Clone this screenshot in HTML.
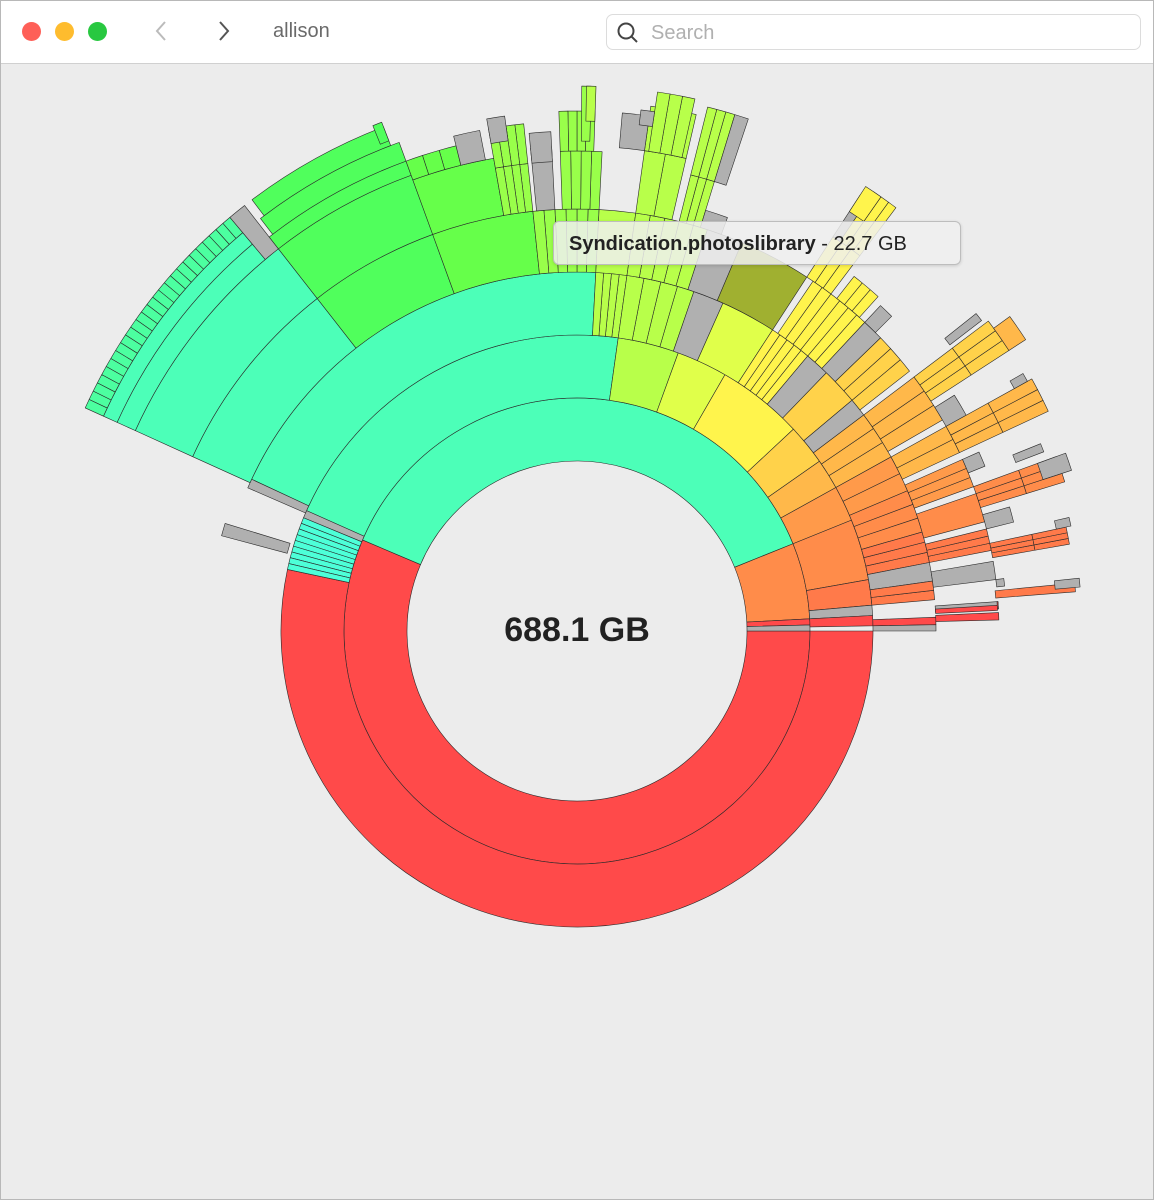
<!DOCTYPE html>
<html><head><meta charset="utf-8"><style>
html,body{margin:0;padding:0;}
body{width:1154px;height:1200px;position:relative;background:#ececec;font-family:"Liberation Sans",sans-serif;overflow:hidden;}
#frame{position:absolute;left:0;top:0;width:1152px;height:1198px;border:1px solid #b8b8b8;}
#bar{position:absolute;left:1px;top:1px;width:1152px;height:62px;background:#fff;border-bottom:1px solid #d0d0d0;}
.dot{position:absolute;top:21px;width:19px;height:19px;border-radius:50%;}
#title{position:absolute;left:272px;top:19px;font-size:20px;color:#6a6a6a;}
#search{position:absolute;left:605px;top:13px;width:533px;height:34px;border:1px solid #dcdcdc;border-radius:7px;background:#fff;}
#search span{position:absolute;left:44px;top:7px;font-size:20px;color:#b0b0b0;}
svg{position:absolute;left:0;top:0;}
#tip{position:absolute;left:553px;top:221px;width:408px;height:44px;border:1px solid #bdbdbd;border-radius:6px;background:rgba(240,240,240,0.85);box-shadow:0 1px 3px rgba(0,0,0,0.15);font-size:20px;color:#222;line-height:44px;padding-left:15px;box-sizing:border-box;white-space:nowrap;}
#center{position:absolute;left:427px;width:300px;top:611px;text-align:center;font-size:34px;font-weight:bold;color:#222;}
</style></head><body>
<div id="frame"></div>
<div id="bar">
<div class="dot" style="left:21px;background:#fe5f57;"></div>
<div class="dot" style="left:54px;background:#febc2e;"></div>
<div class="dot" style="left:87px;background:#28c840;"></div>
<svg width="300" height="62" style="left:0;top:0"><polyline points="164,21 156,30 164,39" fill="none" stroke="#bbb" stroke-width="2"/><polyline points="219,21 227,30 219,39" fill="none" stroke="#555" stroke-width="2"/></svg>
<div id="title">allison</div>
<div id="search"><svg width="40" height="34"><circle cx="19" cy="16" r="7.5" fill="none" stroke="#444" stroke-width="2"/><line x1="24.5" y1="21.5" x2="30" y2="27" stroke="#444" stroke-width="2"/></svg><span>Search</span></div>
</div>
<svg id="chart" width="1154" height="1200"></svg>
<div id="center">688.1 GB</div>
<div id="tip"><b>Syndication.photoslibrary</b> - 22.7 GB</div>
<script>
var CX=577,CY=631,out=[];
function P(r,a){a=a*Math.PI/180;return (CX+r*Math.cos(a)).toFixed(2)+","+(CY-r*Math.sin(a)).toFixed(2);}
function S(r0,r1,a0,a1,f){
 var lg=(a1-a0)>180?1:0;
 out.push('<path d="M'+P(r0,a0)+' L'+P(r1,a0)+' A'+r1+','+r1+' 0 '+lg+' 0 '+P(r1,a1)+' L'+P(r0,a1)+' A'+r0+','+r0+' 0 '+lg+' 1 '+P(r0,a0)+' Z" fill="'+f+'"/>');
}
function N(r0,r1,a0,a1,f,n){var d=(a1-a0)/n;for(var i=0;i<n;i++)S(r0,r1,a0+i*d,a0+(i+1)*d,f);}
var cy='#4cffb8',gr='#50ff5c',g2='#66ff4a',li='#99ff4a',l2='#b8ff4a',yl='#e0ff4a',ye='#fff44c',yo='#ffd24a',o1='#ffb84a',o2='#ff9a4a',o3='#ff8c4a',o4='#ff7a4a',re='#ff4a4a',gy='#b0b0b0',ol='#a0b030';
// ring0
S(170,233,157,360,re);S(170,233,22,157,cy);S(170,233,3,22,o3);S(170,233,1.5,3,re);S(170,233,0,1.5,gy);
// ring1
S(233,296,168,360,re);S(233,296,82,156,cy);S(233,296,156,157.5,gy);N(233,296,157.5,168,'#4dffd8',9);
S(233,296,70,82,l2);S(233,296,60,70,yl);S(233,296,43,60,ye);
S(233,296,35,43,yo);S(233,296,29,35,o1);S(233,296,22,29,o2);S(233,296,10,22,o3);S(233,296,5,10,o4);S(233,296,3,5,gy);S(233,296,1,3,re);
// ring2
S(296,359,87,155,cy);S(296,359,155,156.5,gy);
N(296,359,82,87,l2,4);N(296,359,71,82,l2,4);S(296,359,66,71,gy);S(296,359,57,66,yl);N(296,359,50,57,ye,5);
S(296,359,46,50,gy);S(296,359,40,46,yo);S(296,359,37,40,gy);N(296,359,29,37,o1,3);N(296,359,23,29,o2,2);
N(296,359,16,23,o3,3);N(296,359,11,16,o4,3);S(296,359,8,11,gy);N(296,359,5,8,o4,2);S(296,359,1,2.2,re);S(296,359,0,1,gy);
S(300,368,163,165,gy);
// ring3
S(359,422,128,155.6,cy);S(359,422,110,128,gr);S(359,422,96,110,g2);N(359,422,87,96,li,6);S(359,422,82,87,l2);
N(359,422,72,82,l2,5);S(359,422,67,72,gy);S(359,422,57,67,ol);N(359,422,47,56,ye,6);S(359,422,44,47,gy);
N(359,422,38,44,yo,3);N(359,422,30,37,o1,3);N(359,422,25,29,o1,2);N(359,422,20,24,o2,3);S(359,422,15,19,o3);
N(359,422,11,14,o4,3);S(359,422,7,9.5,gy);S(359,422,1.5,2.5,re);S(359,422,3,4,gy);
// ring4
S(422,485,128,155.6,cy);S(422,485,110,128,gr);S(422,480,100,110,g2);N(422,470,96,100,li,4);
S(422,485,93,95.5,gy);N(422,480,87,92,li,4);N(422,485,77,82,l2,2);N(422,470,73,76,l2,3);
S(422,440,70,73,gy);N(422,470,53,57,ye,3);N(422,450,48,52,ye,3);S(422,445,45,47,gy);
N(422,470,33,37,yo,3);S(422,445,29,32,gy);N(422,470,25,29,o1,3);S(422,440,22,24,gy);N(422,470,17,20,o3,3);S(422,450,14,16,gy);
N(422,465,10,12,o4,3);S(422,430,6,7,gy);S(422,421,3,4,re);
// ring5 and beyond
S(485,505,130,155.6,cy);S(505,520,130,155.6,cy);N(520,540,130,155.6,'#4cffa0',26);S(485,540,128,130,gy);
S(485,500,110,128,gr);S(500,520,110,127.5,gr);S(520,540,111,127,gr);S(525,545,111,112,gr);
N(480,500,104,110,g2,3);S(480,510,101,104,gy);N(470,510,96,100,li,4);S(495,520,98,100,gy);
S(470,500,93,95.5,gy);N(480,520,88,92,li,4);S(490,545,88.5,89.5,li);S(510,545,88,89,l2);
N(485,530,77,82,l2,2);S(485,520,82,85,gy);N(485,545,77.5,81.5,l2,3);S(510,525,81.5,83,gy);
N(470,540,73,76,l2,3);S(470,540,71.5,73,gy);N(470,530,53,56,ye,3);S(470,520,56,57,gy);S(500,530,55,57,ye);
N(470,515,33,37,yo,3);S(515,535,33,36,o1);S(470,510,37.5,38.5,gy);N(470,520,25,29,o1,3);S(500,515,29,30,gy);
N(470,510,17,20,o3,3);S(490,520,18,20,gy);S(470,500,21,22,gy);N(465,500,10,12,o4,3);S(490,505,12,13,gy);
S(420,500,4.5,5.5,o4);S(480,505,5,6,gy);S(359,421,2.8,3.5,re);
document.getElementById('chart').innerHTML='<g stroke="#2a2a2a" stroke-width="0.6" stroke-linejoin="round">'+out.join('')+'</g>';
</script>
</body></html>
